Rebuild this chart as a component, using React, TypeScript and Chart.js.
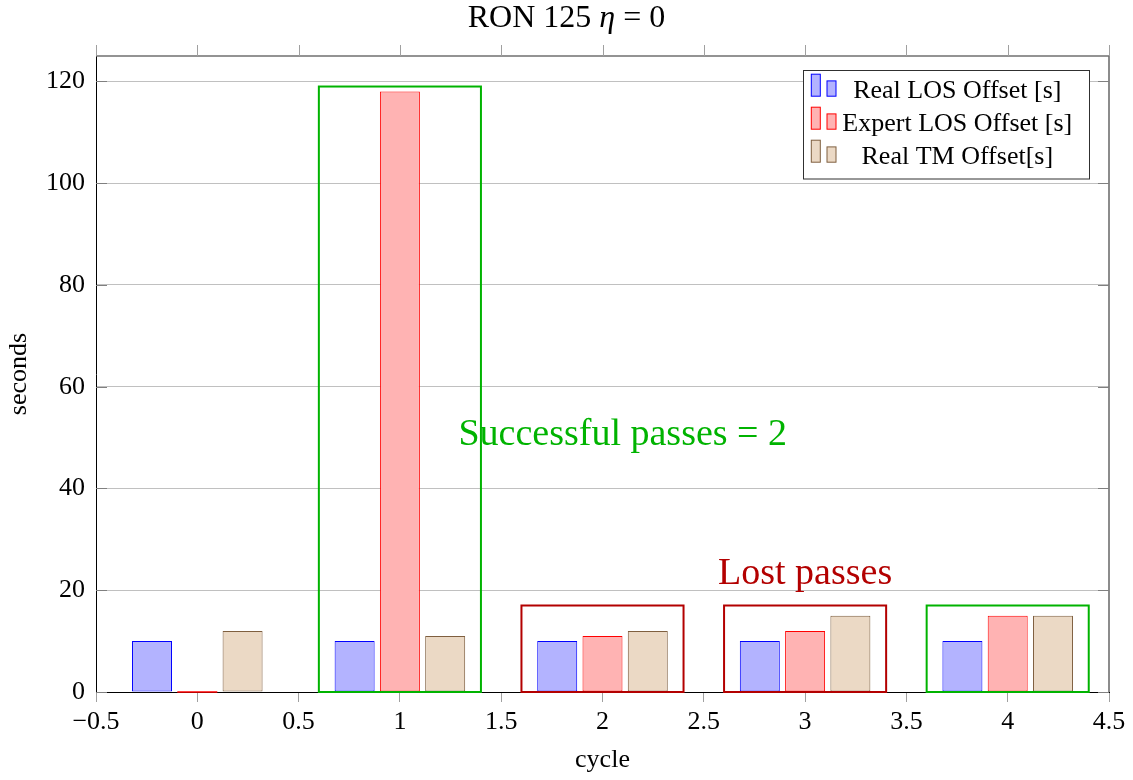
import React, { useEffect, useRef } from 'react';
import { Chart, registerables } from 'chart.js';

Chart.register(...registerables);

// ---- data ----
const cycles = [0, 1, 2, 3, 4];
const realLOS = [10, 10, 10, 10, 10];
const expertLOS = [0, 118, 11, 12, 15];
const realTM = [12, 11, 12, 15, 15];
const seriesLabels = ['Real LOS Offset [s]', 'Expert LOS Offset [s]', 'Real TM Offset[s]'];

const xTicks = [-0.5, 0, 0.5, 1, 1.5, 2, 2.5, 3, 3.5, 4, 4.5];
const yTicks = [0, 20, 40, 60, 80, 100, 120];

// title pieces: [text, italic]
const titleParts: [string, boolean][] = [
  ['RON 125 ', false],
  ['\u03B7', true],
  [' = 0', false],
];

// highlight boxes around cycles
const boxFrom = [0.6, 1.6, 2.6, 3.6];
const boxTo = [1.4, 2.4, 3.4, 4.4];
const boxTop = [119, 17, 17, 17];
const boxKind = ['success', 'lost', 'lost', 'success'];

// annotations
const noteTexts = ['Successful passes = 2', 'Lost passes'];
const noteKind = ['success', 'lost'];
const noteX = [2.1, 3.0];
const noteY = [48.5, 21.2];

// ---- styles ----
const SERIF = '"Liberation Serif", "Times New Roman", serif';
const GREEN = '#00b300';
const DARKRED = '#b30000';
const BLUE_FILL = '#b3b3ff';
const BLUE = '#0000ff';
const RED_FILL = '#ffb3b3';
const RED = '#ff0000';
const TAN_FILL = '#ebd9c5';
const TAN = '#7f5f3f';

const fmt = (v: number) => (v < 0 ? '\u2212' + Math.abs(v) : String(v));

const decorPlugin = {
  id: 'decor',
  afterDatasetsDraw(chart: any) {
    const { ctx, scales } = chart;
    const x = scales.x;
    const y = scales.y;
    ctx.save();
    // zero-height bars drawn as a thin line
    chart.data.datasets.forEach((ds: any, di: number) => {
      const meta = chart.getDatasetMeta(di);
      meta.data.forEach((el: any, i: number) => {
        if (ds.data[i].y === 0) {
          ctx.strokeStyle = ds.borderColor;
          ctx.lineWidth = 1.5;
          ctx.beginPath();
          ctx.moveTo(el.x - el.width / 2, y.getPixelForValue(0));
          ctx.lineTo(el.x + el.width / 2, y.getPixelForValue(0));
          ctx.stroke();
        }
      });
    });
    // boxes
    boxFrom.forEach((f, i) => {
      const l = x.getPixelForValue(f);
      const r = x.getPixelForValue(boxTo[i]);
      const t = y.getPixelForValue(boxTop[i]);
      const b = y.getPixelForValue(0);
      ctx.strokeStyle = boxKind[i] === 'success' ? GREEN : DARKRED;
      ctx.lineWidth = 2;
      ctx.strokeRect(l, t, r - l, b - t);
    });
    // annotations
    ctx.font = `38px ${SERIF}`;
    ctx.textAlign = 'center';
    ctx.textBaseline = 'alphabetic';
    noteTexts.forEach((txt, i) => {
      ctx.fillStyle = noteKind[i] === 'success' ? GREEN : DARKRED;
      ctx.fillText(txt, x.getPixelForValue(noteX[i]), y.getPixelForValue(noteY[i]));
    });
    ctx.restore();
  },
  afterDraw(chart: any) {
    const { ctx, chartArea: a, scales, width } = chart;
    const x = scales.x;
    const y = scales.y;
    ctx.save();
    // title with italic eta
    ctx.fillStyle = '#000';
    ctx.textBaseline = 'alphabetic';
    ctx.textAlign = 'left';
    const fontOf = (it: boolean) => `${it ? 'italic ' : ''}32px ${SERIF}`;
    let total = 0;
    titleParts.forEach(([t, it]) => {
      ctx.font = fontOf(it);
      total += ctx.measureText(t).width;
    });
    let tx = width / 2 - total / 2;
    titleParts.forEach(([t, it]) => {
      ctx.font = fontOf(it);
      ctx.fillText(t, tx, 27);
      tx += ctx.measureText(t).width;
    });

    // top & right frame
    ctx.strokeStyle = '#707070';
    ctx.lineWidth = 1.6;
    ctx.beginPath();
    ctx.moveTo(a.left, a.top);
    ctx.lineTo(a.right, a.top);
    ctx.lineTo(a.right, a.bottom);
    ctx.stroke();
    // top outward ticks
    ctx.strokeStyle = '#a0a0a0';
    ctx.lineWidth = 1;
    ctx.beginPath();
    xTicks.forEach((v) => {
      const px = Math.round(x.getPixelForValue(v)) + 0.5;
      ctx.moveTo(px, a.top);
      ctx.lineTo(px, a.top - 11);
    });
    ctx.stroke();
    // y inward ticks
    ctx.strokeStyle = '#808080';
    ctx.beginPath();
    yTicks.forEach((v) => {
      const py = Math.round(y.getPixelForValue(v)) + 0.5;
      ctx.moveTo(a.left, py);
      ctx.lineTo(a.left + 11, py);
      ctx.moveTo(a.right, py);
      ctx.lineTo(a.right - 11, py);
    });
    ctx.stroke();

    // legend
    const lw = 286;
    const lh = 108.5;
    const lx = a.right - 20 - lw;
    const ly = a.top + 13.5;
    ctx.fillStyle = '#ffffff';
    ctx.fillRect(lx, ly, lw, lh);
    ctx.strokeStyle = '#303030';
    ctx.lineWidth = 1;
    ctx.strokeRect(Math.round(lx) + 0.5, Math.round(ly) + 0.5, lw, lh);
    ctx.font = `26px ${SERIF}`;
    ctx.textAlign = 'center';
    ctx.textBaseline = 'alphabetic';
    chart.data.datasets.forEach((ds: any, i: number) => {
      const base = ly + 28.4 + i * 33;
      const sb = base - 1.7;
      ctx.fillStyle = ds.backgroundColor;
      ctx.strokeStyle = ds.borderColor;
      ctx.lineWidth = 1;
      ctx.fillRect(lx + 8.3, sb - 22, 9, 22);
      ctx.strokeRect(lx + 8.3, sb - 22, 9, 22);
      ctx.fillRect(lx + 24, sb - 15.3, 9, 15.3);
      ctx.strokeRect(lx + 24, sb - 15.3, 9, 15.3);
      ctx.fillStyle = '#000';
      ctx.fillText(ds.label, lx + 154.3, base);
    });
    ctx.restore();
  },
};

export default function App() {
  const ref = useRef<HTMLCanvasElement | null>(null);

  useEffect(() => {
    if (!ref.current) return;
    const mk = (vals: number[]) => cycles.map((c, i) => ({ x: c, y: vals[i] }));
    const barCommon = {
      borderWidth: 1,
      borderSkipped: false,
      categoryPercentage: 1.341,
      barPercentage: 0.883,
    };
    const chart = new Chart(ref.current, {
      type: 'bar',
      data: {
        datasets: [
          { label: seriesLabels[0], data: mk(realLOS), backgroundColor: BLUE_FILL, borderColor: BLUE, ...barCommon },
          { label: seriesLabels[1], data: mk(expertLOS), backgroundColor: RED_FILL, borderColor: RED, ...barCommon },
          { label: seriesLabels[2], data: mk(realTM), backgroundColor: TAN_FILL, borderColor: TAN, ...barCommon },
        ],
      } as any,
      options: {
        animation: false,
        responsive: false,
        layout: { padding: { left: 0, right: 24, top: 56, bottom: 0 } },
        plugins: {
          legend: { display: false },
          tooltip: { enabled: false },
          title: { display: false },
        },
        scales: {
          x: {
            type: 'linear',
            min: -0.5,
            max: 4.5,
            offset: false,
            afterBuildTicks: (s: any) => {
              s.ticks = xTicks.map((v) => ({ value: v }));
            },
            afterFit: (s: any) => {
              s.height = 88;
              s.paddingLeft = 0;
              s.paddingRight = 0;
            },
            grid: {
              display: true,
              drawOnChartArea: false,
              drawTicks: true,
              tickLength: 10,
              color: '#a0a0a0',
              offset: false,
            },
            border: { display: true, color: '#000', width: 1 },
            ticks: {
              color: '#000',
              font: { family: SERIF, size: 26, lineHeight: 1 },
              padding: 7,
              autoSkip: false,
              maxRotation: 0,
              callback: (v: any) => fmt(Number(v)),
            },
            title: {
              display: true,
              text: 'cycle',
              color: '#000',
              font: { family: SERIF, size: 26, lineHeight: 1.2 },
              padding: { top: 0, bottom: 4 },
            },
          },
          y: {
            type: 'linear',
            min: 0,
            max: 125,
            afterBuildTicks: (s: any) => {
              s.ticks = yTicks.map((v) => ({ value: v }));
            },
            afterFit: (s: any) => {
              s.width = 96;
              s.paddingTop = 0;
              s.paddingBottom = 0;
            },
            grid: { color: '#c0c0c0', drawTicks: false, lineWidth: 1 },
            border: { display: true, color: '#000', width: 1 },
            ticks: {
              color: '#000',
              font: { family: SERIF, size: 26, lineHeight: 1.2 },
              padding: 11,
              callback: (v: any) => fmt(Number(v)),
            },
            title: {
              display: true,
              text: 'seconds',
              color: '#000',
              font: { family: SERIF, size: 26, lineHeight: 1.2 },
              padding: { top: 4, bottom: 0 },
            },
          },
        },
      } as any,
      plugins: [decorPlugin],
    });
    return () => chart.destroy();
  }, []);

  return (
    <div style={{ position: 'absolute', left: 0, top: 0, width: 1133, height: 780, background: '#fff' }}>
      <canvas ref={ref} width={1133} height={780} style={{ display: 'block' }} />
    </div>
  );
}
